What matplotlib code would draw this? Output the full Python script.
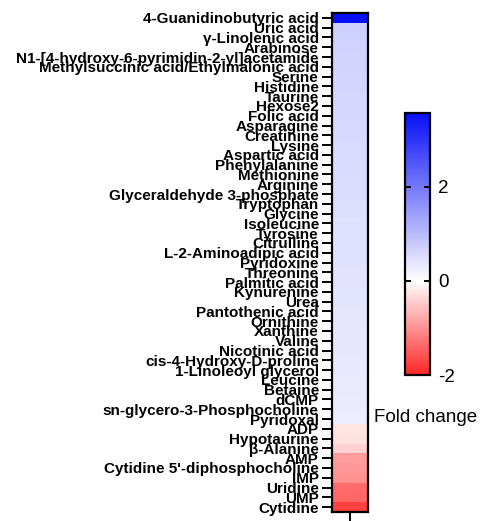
import matplotlib
matplotlib.use("Agg")
import matplotlib.pyplot as plt
import numpy as np
from matplotlib.colors import LinearSegmentedColormap, Normalize

metabolites = [
    "4-Guanidinobutyric acid", "Uric acid", "γ-Linolenic acid", "Arabinose",
    "N1-[4-hydroxy-6-pyrimidin-2-yl]acetamide",
    "Methylsuccinic acid/Ethylmalonic acid", "Serine", "Histidine", "Taurine",
    "Hexose2", "Folic acid", "Asparagine", "Creatinine", "Lysine",
    "Aspartic acid", "Phenylalanine", "Methionine", "Arginine",
    "Glyceraldehyde 3-phosphate", "Tryptophan", "Glycine", "Isoleucine",
    "Tyrosine", "Citrulline", "L-2-Aminoadipic acid", "Pyridoxine",
    "Threonine", "Palmitic acid", "Kynurenine", "Urea", "Pantothenic acid",
    "Ornithine", "Xanthine", "Valine", "Nicotinic acid",
    "cis-4-Hydroxy-D-proline", "1-Linoleoyl glycerol", "Leucine", "Betaine",
    "dCMP", "sn-glycero-3-Phosphocholine", "Pyridoxal", "ADP", "Hypotaurine",
    "β-Alanine", "AMP", "Cytidine 5'-diphosphocholine", "IMP", "Uridine",
    "UMP", "Cytidine",
]

fold_change = [
    3.57, 0.70, 0.68, 0.66, 0.65, 0.64, 0.63, 0.62, 0.61, 0.60,
    0.59, 0.58, 0.57, 0.56, 0.55, 0.54, 0.53, 0.52, 0.51, 0.50,
    0.49, 0.48, 0.47, 0.46, 0.45, 0.44, 0.43, 0.42, 0.41, 0.40,
    0.39, 0.38, 0.37, 0.36, 0.35, 0.34, 0.33, 0.32, 0.31, 0.30,
    0.29, 0.27, -0.25, -0.28, -0.42, -0.90, -0.95, -1.00, -1.35,
    -1.40, -1.75,
]

cbar_ticks = [-2, 0, 2]
vmin, vmax = -2.0, 3.57

# red -> white -> blue, with white placed at zero on a linear scale
white_pos = (0 - vmin) / (vmax - vmin)
cmap = LinearSegmentedColormap.from_list(
    "fold", [(0.0, (1.0, 0.15, 0.15)), (white_pos, (1.0, 1.0, 1.0)),
             (1.0, (0.03, 0.06, 0.97))])
norm = Normalize(vmin=vmin, vmax=vmax)

W, H = 481, 521
fig = plt.figure(figsize=(W / 100, H / 100), dpi=100)

ax = fig.add_axes([332 / W, 1 - 512 / H, 36 / W, 499 / H])
vals = np.array(fold_change).reshape(-1, 1)
n = len(metabolites)
mesh = ax.pcolormesh([0, 1], np.arange(n + 1), vals, cmap=cmap, norm=norm)
ax.set_ylim(n, 0)
ax.set_xlim(0, 1)
ax.set_yticks(np.arange(n) + 0.5)
ax.set_yticklabels(metabolites, fontfamily="Liberation Sans",
                   fontweight="bold", fontsize=11)
ax.set_xticks([0.5])
ax.set_xticklabels([""])
ax.tick_params(axis="y", length=7.5, width=1.4, pad=2)
ax.tick_params(axis="x", length=8, width=1.4)
for s in ax.spines.values():
    s.set_linewidth(1.6)

cax = fig.add_axes([405 / W, 1 - 375 / H, 25 / W, 262 / H])
cb = fig.colorbar(mesh, cax=cax, ticks=cbar_ticks)
cb.outline.set_linewidth(1.6)
cax.yaxis.set_ticks_position("both")
cax.tick_params(axis="y", direction="in", length=4, width=1.4,
                labelright=True, labelleft=False, labelsize=13.5, pad=6)
for t in cax.get_yticklabels():
    t.set_fontfamily("Liberation Sans")
cax.set_yticklabels([str(t) for t in cbar_ticks])

fig.text(374 / W, 1 - 417 / H, "Fold change", fontfamily="Liberation Sans",
         fontsize=13.5, va="center", ha="left")

fig.savefig("out.png", dpi=100)
